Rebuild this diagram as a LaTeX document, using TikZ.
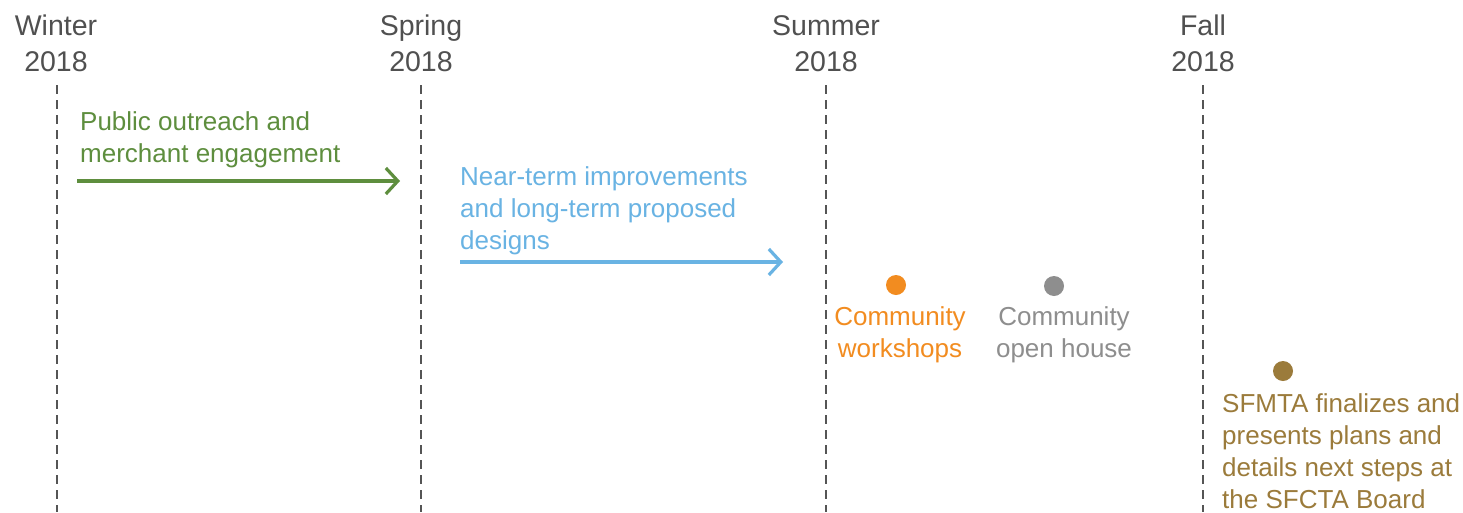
\documentclass[tikz,border=0pt]{standalone}
\usepackage{fontspec}
\setmainfont{Liberation Sans}
\usetikzlibrary{arrows.meta}
\definecolor{hdr}{HTML}{505050}
\definecolor{grid}{HTML}{555555}
\definecolor{cgreen}{HTML}{5E8E3E}
\definecolor{cblue}{HTML}{69B3E3}
\definecolor{corange}{HTML}{F28C20}
\definecolor{cgray}{HTML}{8E8E8E}
\definecolor{cbrown}{HTML}{9B7B3B}
\begin{document}
\begin{tikzpicture}[x=1pt,y=-1pt,
  header/.style={font=\fontsize{28.5}{36}\selectfont, text=hdr, align=center, inner sep=0pt, anchor=base},
  body/.style={font=\fontsize{26}{32}\selectfont, inner sep=0pt, anchor=base west, align=left},
  bodyc/.style={font=\fontsize{26}{32}\selectfont, inner sep=0pt, anchor=base, align=center},
  season/.style={draw=grid, line width=1.8pt, dash pattern=on 9pt off 6pt},
  span/.style={line width=3.2pt, -{Straight Barb[length=12pt,width=26pt,line width=3.2pt]}},
  dot/.style={circle, inner sep=0pt, minimum size=20pt}]
\useasboundingbox (0,0) rectangle (1463,512);
\fill[white] (0,0) rectangle (1463,512);
% headers (anchor = baseline of the last line)
\node[header] (hw) at (56,71) {Winter\\2018};
\node[header] (hs) at (421,71) {Spring\\2018};
\node[header] (hu) at (826,71) {Summer\\2018};
\node[header] (hf) at (1203,71) {Fall\\2018};
% season lines
\coordinate (wt) at (57,85);  \coordinate (wb) at (57,512);
\coordinate (st) at (421,85); \coordinate (sb) at (421,512);
\coordinate (ut) at (826,85); \coordinate (ub) at (826,512);
\coordinate (ft) at (1203,85); \coordinate (fb) at (1203,512);
\draw[season] (wt) -- (wb);
\draw[season] (st) -- (sb);
\draw[season] (ut) -- (ub);
\draw[season] (ft) -- (fb);
% green
\node[body, text=cgreen] (tg) at (80,162) {Public outreach and\\merchant engagement};
\coordinate (g1) at (77,181); \coordinate (g2) at (400,181);
\draw[span, cgreen] (g1) -- (g2);
% blue
\node[body, text=cblue] (tb) at (460,249) {Near-term improvements\\and long-term proposed\\designs};
\coordinate (b1) at (460,262); \coordinate (b2) at (783,262);
\draw[span, cblue] (b1) -- (b2);
% orange
\node[dot, fill=corange] (do) at (896,285) {};
\node[bodyc, text=corange] (to) at (900,357) {Community\\workshops};
% gray
\node[dot, fill=cgray] (dg) at (1054,286) {};
\node[bodyc, text=cgray] (tgr) at (1064,357) {Community\\open house};
% brown
\node[dot, fill=cbrown] (db) at (1283,371) {};
\node[body, text=cbrown] (tbr) at (1222,508) {SFMTA finalizes and\\presents plans and\\details next steps at\\the SFCTA Board};
\end{tikzpicture}
\end{document}
